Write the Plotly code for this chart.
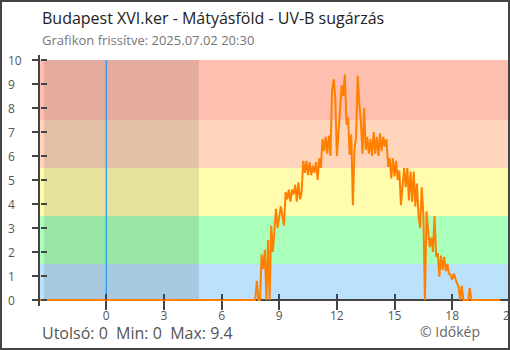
import numpy as np
import plotly.graph_objects as go

# UV-B index, 5-minute samples starting at 07:45 and ending at 20:30
uvb = [0, 0.8, 0, 0, 1.9, 1.3, 2.1, 0, 2.5, 0,
       3.1, 2.0, 2.8, 3.8, 3.0, 3.4, 3.9, 3.5, 3.1, 4.5,
       4.2, 4.6, 4.1, 4.6, 4.4, 4.8, 4.1, 4.9, 4.2, 4.5,
       5.8, 5.3, 5.8, 5.2, 5.75, 5.2, 5.6, 5.3, 5.75, 5.0,
       5.9, 5.5, 6.7, 6.2, 6.8, 6.1, 6.85, 6.0, 8.75, 9.2,
       8.4, 6.0, 7.1, 7.85, 8.95, 8.5, 9.4, 7.3, 7.6, 6.05,
       6.9, 3.95, 6.3, 6.8, 9.35, 8.2, 7.4, 6.1, 8.0, 6.25,
       6.8, 6.1, 6.7, 6.0, 7.0, 6.1, 6.8, 6.0, 6.95, 6.2,
       6.8, 6.4, 6.7, 5.55, 5.9, 5.07, 5.9, 5.15, 5.8, 5.0,
       5.4, 3.95, 4.86, 5.5, 4.7, 5.5, 4.15, 5.35, 4.1, 5.35,
       3.9, 4.85, 3.5, 3.0, 4.7, 3.6, 0, 3.7, 2.9, 2.2,
       2.6, 2.0, 3.5, 1.8, 1.95, 0.97, 1.85, 1.25, 1.8, 1.2,
       1.5, 1.1, 1.05, 0.85, 1.1, 0.85, 0.7, 0.55, 0, 0.6,
       0, 0, 0, 0, 0.5, 0, 0, 0, 0, 0,
       0, 0, 0, 0, 0, 0, 0, 0, 0, 0,
       0, 0, 0, 0]
day_start = 7.75          # 07:45
step_h = 5 / 60           # 5-minute sampling
record_start = -3.5       # 20:30 previous day (night readings all zero)

# UV categories (lower/upper bound and colour)
band_edges = [0, 1.5, 3.5, 5.5, 7.5, 10]
band_colors = ["#bbe1fb", "#aaffbb", "#fffcad", "#ffd6bb", "#ffbfb0"]

# night period (sunset previous day -> sunrise), hours relative to midnight
sunset_prev = -3.25
sunrise = 4.82

tick_hours = [0, 3, 6, 9, 12, 15, 18, 21]
y_ticks = list(range(0, 11))

title = "Budapest XVI.ker - Mátyásföld - UV-B sugárzás"
subtitle = "Grafikon frissítve: 2025.07.02 20:30"
credit = "© Időkép"

t_day = day_start + np.arange(len(uvb)) * step_h
times = [record_start] + list(t_day)
values = [0] + uvb

W, H = 510, 350
L, R, T, B = 40, 0, 55, 44
pw, ph = W - L - R, H - T - B
x_range = [-3.45, 21.01]
y_range = [-0.25, 10.21]
x_axis_pos = (0 - y_range[0]) / (y_range[1] - y_range[0])


def px(xp):
    return (xp - L) / pw


def py(yp):
    return (H - B - yp) / ph


FONT = "Open Sans"
AX = "#444"

fig = go.Figure()
fig.add_trace(go.Scatter(x=times, y=values, mode="lines",
                         line=dict(color="#ff8000", width=2),
                         showlegend=False, hoverinfo="skip"))
# empty traces so the overlay axes (tick marks only) get drawn
fig.add_trace(go.Scatter(x=[None], y=[None], xaxis="x2", yaxis="y2",
                         showlegend=False, hoverinfo="skip"))
fig.add_trace(go.Scatter(x=[None], y=[None], xaxis="x3", yaxis="y2",
                         showlegend=False, hoverinfo="skip"))

shapes = []
for lo, hi, col in zip(band_edges[:-1], band_edges[1:], band_colors):
    shapes.append(dict(type="rect", xref="paper", yref="y", x0=0, x1=1,
                       y0=lo, y1=hi, fillcolor=col, line=dict(width=0),
                       layer="below"))
shapes.append(dict(type="rect", xref="x", yref="y", x0=sunset_prev, x1=sunrise,
                   y0=band_edges[0], y1=band_edges[-1],
                   fillcolor="rgba(0,0,0,0.1)", line=dict(width=0), layer="below"))
shapes.append(dict(type="line", xref="x", yref="y", x0=0, x1=0,
                   y0=y_range[0], y1=band_edges[-1],
                   line=dict(color="#2196f3", width=1.2), layer="below"))
shapes.append(dict(type="rect", xref="paper", yref="paper",
                   x0=px(1), x1=px(509), y0=py(349), y1=py(1),
                   line=dict(color="#444", width=2), fillcolor="rgba(0,0,0,0)",
                   layer="above"))

annotations = [
    dict(text=title, x=px(40), y=py(18), xref="paper", yref="paper",
         xanchor="left", yanchor="middle", showarrow=False,
         font=dict(family=FONT, size=16, color="#222")),
    dict(text=subtitle, x=px(40), y=py(40.3), xref="paper", yref="paper",
         xanchor="left", yanchor="middle", showarrow=False,
         font=dict(family=FONT, size=13, color="#777")),
    dict(text=f"Utolsó: {values[-1]:g}\u00a0\u00a0Min: {min(values):g}\u00a0\u00a0Max: {max(values):g}",
         x=px(40), y=py(333.4), xref="paper", yref="paper",
         xanchor="left", yanchor="middle", showarrow=False,
         font=dict(family=FONT, size=16, color="#555")),
    dict(text=credit, x=px(482), y=py(331.5), xref="paper", yref="paper",
         xanchor="right", yanchor="middle", showarrow=False,
         font=dict(family=FONT, size=14, color="#666")),
]
for v in y_ticks:
    annotations.append(dict(text=str(v), x=px(6), y=v, xref="paper", yref="y",
                            xanchor="left", yanchor="middle", showarrow=False,
                            font=dict(family=FONT, size=12, color="#555")))

tick_common = dict(range=x_range, tickvals=tick_hours, anchor="free",
                   position=x_axis_pos, showgrid=False, zeroline=False,
                   fixedrange=True, automargin=False)

fig.update_layout(
    width=W, height=H, margin=dict(l=L, r=R, t=T, b=B, pad=0, autoexpand=False),
    paper_bgcolor="white", plot_bgcolor="white", showlegend=False,
    shapes=shapes, annotations=annotations,
    # main x axis: line and labels (its own tick marks are invisible)
    xaxis=dict(**tick_common, ticktext=[str(h) for h in tick_hours],
               ticks="outside", ticklen=5, tickcolor="rgba(0,0,0,0)",
               showline=True, linecolor=AX, linewidth=1.5, layer="below traces",
               ticklabeloverflow="allow",
               tickfont=dict(family=FONT, size=12, color="#555")),
    # tick marks below and above the x axis line
    xaxis2=dict(**tick_common, overlaying="x", ticks="outside", ticklen=9,
                tickwidth=1.5, tickcolor=AX, showticklabels=False, showline=False),
    xaxis3=dict(**tick_common, overlaying="x", ticks="inside", ticklen=6,
                tickwidth=1.5, tickcolor=AX, showticklabels=False, showline=False),
    yaxis=dict(range=y_range, tickvals=y_ticks, showticklabels=False,
               ticks="outside", ticklen=6, tickwidth=1.5, tickcolor=AX,
               showline=True, linecolor=AX, linewidth=1.5, automargin=False,
               showgrid=False, zeroline=False, fixedrange=True),
    yaxis2=dict(range=y_range, overlaying="y", anchor="free", position=0, side="left",
                tickvals=y_ticks, ticks="inside", ticklen=6, tickwidth=1.5,
                tickcolor=AX, showticklabels=False, showline=False, automargin=False,
                showgrid=False, zeroline=False, fixedrange=True),
)

fig.write_html("out.html", config={"displayModeBar": False})
